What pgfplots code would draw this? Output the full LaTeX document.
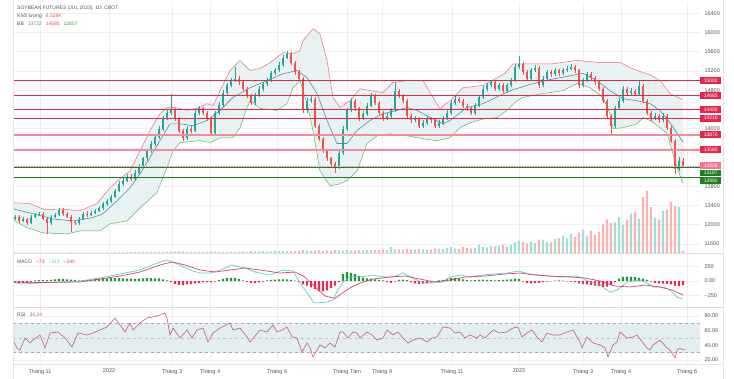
\documentclass[border=0pt]{standalone}
\usepackage{fontspec}
\setmainfont{Liberation Sans}
\usepackage{pgfplots}
\pgfplotsset{compat=1.18}
\usepackage{pgfplotstable}

\definecolor{upc}{HTML}{26A69A}
\definecolor{dnc}{HTML}{EF5350}
\definecolor{bbup}{HTML}{F06A7A}
\definecolor{bbmid}{HTML}{4A8FA8}
\definecolor{bblow}{HTML}{5DB85F}
\definecolor{bbfill}{HTML}{E8F2F2}
\definecolor{lred}{HTML}{E8264B}
\definecolor{lpink}{HTML}{F58A9C}
\definecolor{lgreen}{HTML}{1E7F22}
\definecolor{volu}{HTML}{A6DCD4}
\definecolor{vold}{HTML}{F8B3B3}
\definecolor{hgreen}{HTML}{22962F}
\definecolor{hred}{HTML}{EA2B4B}
\definecolor{macdc}{HTML}{5CCFC4}
\definecolor{sigc}{HTML}{D9436B}
\definecolor{rsic}{HTML}{C25A86}
\definecolor{rsiband}{HTML}{E2EEF0}
\definecolor{txt}{HTML}{555555}
\definecolor{gridc}{HTML}{EFEFEF}

% up candles: x open high low close volume(K)
\pgfplotstableread{
x o h l c v
15 12120 12210 12090 12170 1.2
23 12080 12160 12050 12120 1.0
31 12040 12200 12010 12170 1.6
35 12170 12250 12140 12210 1.1
39 12210 12270 12180 12230 1.4
51 12040 12200 12000 12170 1.8
55 12170 12240 12130 12210 1.3
59 12210 12350 12180 12310 1.5
79 12040 12160 12000 12120 1.4
83 12120 12260 12090 12230 1.7
91 12210 12290 12180 12250 1.5
95 12250 12330 12220 12290 1.9
99 12290 12390 12260 12350 2.0
103 12350 12470 12310 12440 1.6
107 12440 12540 12400 12500 2.2
111 12500 12620 12460 12580 1.8
115 12580 12750 12550 12710 2.4
119 12710 12900 12680 12850 2.1
123 12850 12980 12800 12920 2.5
127 12920 13050 12880 13000 3.5
135 12960 13130 12920 13080 4.2
139 13080 13270 13040 13230 3.8
143 13230 13420 13190 13380 4.5
147 13380 13580 13330 13540 3.6
151 13540 13740 13500 13690 4.8
155 13690 13880 13640 13830 4.0
159 13830 14050 13790 14000 5.2
163 14000 14260 13960 14210 4.4
167 14210 14380 14170 14330 5.5
171 14330 14730 14290 14380 6.0
187 13810 14050 13770 14000 4.6
195 13960 14380 13920 14330 5.0
199 14330 14470 14290 14420 4.1
215 13900 14370 13860 14330 5.8
219 14330 14550 14290 14500 4.3
223 14500 14800 14460 14750 5.1
227 14750 14950 14700 14900 4.7
231 14900 15050 14860 15000 5.4
235 15000 15280 14960 15040 6.2
255 14540 14740 14500 14690 7.0
259 14690 14880 14650 14830 6.3
263 14830 14970 14790 14920 8.1
267 14920 15050 14880 15000 7.2
271 15000 15200 14960 15150 6.6
275 15150 15260 15110 15210 8.5
279 15210 15380 15170 15330 7.7
283 15330 15530 15290 15480 9.0
287 15480 15620 15440 15560 8.2
307 14380 14630 14330 14580 9.5
311 14580 14670 14540 14620 7.4
339 13190 13550 13150 13500 11.5
343 13500 14050 13460 14000 10.4
347 14000 14430 13960 14380 12.0
351 14380 14630 14340 14580 9.8
363 14210 14360 14170 14310 10.6
367 14310 14530 14270 14480 11.8
371 14480 14740 14440 14690 12.5
387 14210 14320 14170 14270 13.0
391 14270 14430 14230 14380 26.0
395 14380 14980 14340 14790 16.5
415 14170 14260 14130 14210 14.2
423 14060 14170 14020 14120 15.5
427 14120 14260 14080 14210 13.8
439 14060 14170 14020 14120 18.4
443 14120 14260 14080 14210 16.0
447 14210 14380 14170 14330 21.0
451 14330 14590 14290 14540 24.5
455 14540 14670 14500 14620 19.6
475 14330 14530 14290 14480 22.0
479 14480 14700 14440 14650 34.0
483 14650 14880 14610 14830 26.5
487 14830 14950 14790 14900 24.0
491 14900 15010 14860 14960 29.5
499 14830 14950 14790 14900 31.0
507 14790 14950 14750 14900 27.0
511 14900 15050 14860 15000 33.0
515 15000 15340 14960 15290 44.0
519 15290 15520 15250 15350 52.0
531 15040 15260 15000 15210 49.0
535 15210 15320 15170 15270 41.0
543 14900 15090 14860 15040 55.0
547 15040 15220 15000 15170 47.0
555 15130 15260 15090 15210 58.0
563 15150 15260 15110 15210 72.0
567 15210 15300 15170 15250 61.0
571 15250 15350 15210 15290 80.0
583 14900 15050 14860 15000 98.0
587 15000 15180 14960 15130 70.0
615 14060 14470 14020 14420 128.0
619 14420 14630 14380 14580 150.0
623 14580 14880 14540 14830 118.0
631 14750 14840 14710 14790 165.0
639 14730 14990 14690 14880 142.0
655 14210 14320 14170 14270 148.0
663 14170 14320 14130 14270 175.0
679 13150 13400 13110 13330 192.0
}\up

% down candles
\pgfplotstableread{
x o h l c v
19 12170 12200 12040 12080 1.4
27 12120 12150 12000 12040 1.2
43 12230 12260 12090 12120 1.6
47 12120 12150 11810 12040 2.0
63 12310 12340 12190 12230 1.3
67 12230 12260 12130 12170 1.5
71 12170 12200 11840 12060 2.1
75 12060 12100 11990 12040 1.7
87 12230 12290 12170 12210 1.4
131 13000 13060 12900 12960 3.9
175 14380 14420 14160 14210 5.6
179 14210 14250 13900 13960 6.4
183 13960 14000 13750 13810 5.3
191 14000 14060 13900 13960 4.8
203 14420 14460 14280 14330 4.5
207 14330 14370 14160 14210 5.0
211 14210 14250 13850 13900 6.8
239 15040 15090 14910 14960 5.9
243 14960 15000 14780 14830 6.5
247 14830 14870 14640 14690 5.2
251 14690 14730 14490 14540 7.6
291 15560 15600 15320 15370 9.2
295 15370 15410 15120 15170 8.0
299 15170 15210 14990 15040 8.8
303 15040 15080 14330 14380 12.4
315 14620 14660 14010 14060 10.2
319 14060 14100 13740 13790 11.0
323 13790 13830 13490 13540 9.4
327 13540 13580 13330 13380 10.8
331 13380 13420 13220 13270 8.6
335 13270 13310 13080 13190 12.8
355 14580 14620 14370 14420 10.0
359 14420 14460 14160 14210 11.2
375 14690 14730 14490 14540 13.5
379 14540 14580 14280 14330 12.2
383 14330 14370 14160 14210 14.8
399 14790 14830 14640 14690 15.0
403 14690 14730 14530 14580 12.8
407 14580 14620 14220 14270 17.2
411 14270 14310 14120 14170 14.0
419 14210 14250 14010 14060 16.4
431 14210 14250 14120 14170 14.6
435 14170 14210 14010 14060 19.0
459 14620 14660 14530 14580 17.5
463 14580 14620 14430 14480 25.0
467 14480 14520 14370 14420 20.5
471 14420 14460 14280 14330 18.0
495 14960 15000 14780 14830 28.0
503 14900 14940 14740 14790 35.0
523 15350 15390 15120 15170 47.0
527 15170 15210 14990 15040 40.0
539 15270 15310 14850 14900 56.0
551 15170 15210 15080 15130 45.0
559 15210 15250 15100 15150 63.0
575 15290 15330 15160 15210 68.0
579 15210 15250 14850 14900 85.0
591 15130 15170 15010 15060 94.0
595 15060 15100 14910 14960 76.0
599 14960 15000 14780 14830 88.0
603 14830 14870 14530 14580 120.0
607 14580 14620 14220 14270 141.0
611 14270 14310 13850 14060 125.0
627 14830 14870 14700 14750 140.0
635 14790 14830 14680 14730 170.0
643 14880 14920 14530 14580 235.0
647 14580 14620 14280 14330 260.0
651 14330 14370 14160 14210 192.0
659 14270 14310 14120 14170 140.0
667 14270 14310 13970 14020 182.0
671 14020 14060 13700 13750 213.0
675 13750 13790 13060 13150 196.0
683 13330 13380 13190 13226 8.528
}\dn

\pgfplotstableread{
x y
13 12460
30 12440
45 12310
60 12330
80 12290
97 12440
110 12770
120 12960
130 13120
140 13540
150 13960
160 14310
167 14440
175 14440
187 14380
200 14440
207 14520
213 14480
220 14790
230 15210
240 15420
250 15210
260 15250
270 15370
283 15580
293 15560
300 15620
303 15830
313 16080
320 15970
327 15420
333 14650
340 14440
350 14580
360 14830
370 14790
383 14750
393 14960
407 15000
423 15000
433 14650
440 14420
450 14580
463 14850
483 14900
497 15060
505 15150
513 15350
530 15350
553 15350
577 15420
597 15380
620 15380
630 15270
640 15190
650 15120
660 15000
670 14730
683 14600
}\bbu

\pgfplotstableread{
x y
13 12330
33 12230
53 12120
73 12080
93 12150
103 12230
117 12500
130 12770
140 13060
150 13400
160 13750
170 14100
180 14100
193 14060
207 14170
220 14380
233 14650
250 14850
267 15000
283 15140
297 15210
307 15060
317 14730
327 14170
337 13690
347 13690
357 13960
370 14170
383 14310
397 14380
407 14440
417 14380
430 14230
443 14100
450 14170
467 14440
483 14520
500 14690
510 14790
530 14920
550 15020
570 15100
583 15150
597 15000
610 14790
623 14625
637 14580
650 14520
660 14380
670 14125
683 13720
}\bbm

\pgfplotstableread{
x y
13 12100
27 11940
43 11830
67 11810
80 11870
100 11870
110 12020
127 12080
140 12350
157 12670
167 13190
173 13540
180 13710
200 13750
210 13710
220 13810
233 13810
240 14020
247 14440
250 14580
260 14420
277 14380
287 14520
293 14850
300 15000
308 14440
313 13960
320 13120
330 12810
340 12850
347 12920
357 13120
367 13690
377 13850
390 13890
407 13850
423 13790
437 13750
450 13810
460 14020
470 14120
483 14200
497 14230
507 14380
517 14580
523 14650
543 14730
563 14790
577 14940
590 14850
603 14650
610 14310
613 14000
623 14020
637 14100
643 14230
650 14170
655 14100
667 13900
677 13190
683 12860
}\bbl

% band outline: upper band forward, lower band backward
\pgfplotstableread{
x y
13 12460
30 12440
45 12310
60 12330
80 12290
97 12440
110 12770
120 12960
130 13120
140 13540
150 13960
160 14310
167 14440
175 14440
187 14380
200 14440
207 14520
213 14480
220 14790
230 15210
240 15420
250 15210
260 15250
270 15370
283 15580
293 15560
300 15620
303 15830
313 16080
320 15970
327 15420
333 14650
340 14440
350 14580
360 14830
370 14790
383 14750
393 14960
407 15000
423 15000
433 14650
440 14420
450 14580
463 14850
483 14900
497 15060
505 15150
513 15350
530 15350
553 15350
577 15420
597 15380
620 15380
630 15270
640 15190
650 15120
660 15000
670 14730
683 14600
683 12860
677 13190
667 13900
655 14100
650 14170
643 14230
637 14100
623 14020
613 14000
610 14310
603 14650
590 14850
577 14940
563 14790
543 14730
523 14650
517 14580
507 14380
497 14230
483 14200
470 14120
460 14020
450 13810
437 13750
423 13790
407 13850
390 13890
377 13850
367 13690
357 13120
347 12920
340 12850
330 12810
320 13120
313 13960
308 14440
300 15000
293 14850
287 14520
277 14380
260 14420
250 14580
247 14440
240 14020
233 13810
220 13810
210 13710
200 13750
180 13710
173 13540
167 13190
157 12670
140 12350
127 12080
110 12020
100 11870
80 11870
67 11810
43 11830
27 11940
13 12100
}\bbband

\pgfplotstableread{
x y
35 10
39 15
43 15
47 15
51 20
55 30
59 35
63 35
67 30
71 25
75 20
79 10
83 5
87 15
91 25
95 35
99 40
103 45
107 45
111 50
115 50
119 50
123 45
127 40
131 40
135 35
139 40
143 45
147 50
151 50
155 45
159 45
163 30
167 10
219 15
223 35
227 50
231 55
235 50
239 35
243 10
267 10
271 20
275 25
279 30
283 30
287 30
291 20
295 5
343 120
347 155
351 140
355 120
359 90
363 60
367 45
371 40
375 30
379 20
383 10
399 20
403 25
407 15
439 10
443 20
447 35
451 50
455 55
459 45
463 30
467 20
471 10
475 15
479 20
483 25
487 20
491 15
495 10
499 15
503 20
507 25
511 30
515 40
519 35
555 5
559 10
563 5
619 40
623 70
627 75
631 70
635 65
639 55
643 40
647 20
}\hpos

\pgfplotstableread{
x y
15 -35
19 -35
23 -30
27 -30
31 -20
171 -20
175 -50
179 -65
183 -70
187 -60
191 -55
195 -40
199 -30
203 -25
207 -20
211 -25
215 -10
247 -15
251 -30
255 -35
259 -25
263 -10
299 -20
303 -60
307 -80
311 -110
315 -140
319 -170
323 -180
327 -160
331 -120
335 -80
339 -20
387 -20
391 -30
395 -10
411 -20
415 -40
419 -50
423 -45
427 -40
431 -25
435 -5
523 -10
527 -30
531 -40
535 -35
539 -30
543 -20
547 -10
551 -5
567 -5
571 -10
575 -20
579 -40
583 -55
587 -60
591 -70
595 -80
599 -90
603 -100
607 -95
611 -70
615 -20
651 -10
655 -30
659 -40
663 -45
667 -50
671 -60
675 -80
679 -90
683 -73
}\hneg

\pgfplotstableread{
x y
13 -17
20 -52
40 -34
60 -17
80 0
100 52
120 121
140 190
160 328
167 362
175 310
190 190
200 138
210 138
220 190
232 276
245 224
255 155
270 103
283 190
293 172
300 -34
310 -276
313 -362
317 -379
327 -362
333 -328
338 -155
343 -17
350 69
360 69
373 103
383 69
393 69
403 138
413 52
423 -34
433 -34
443 -17
450 69
460 103
470 69
483 103
493 121
507 138
518 172
530 121
547 86
560 69
577 86
590 -17
600 -69
610 -190
617 -155
627 -17
640 17
647 -34
653 -103
663 -103
670 -155
677 -276
683 -313
}\macd

\pgfplotstableread{
x y
13 -17
40 -26
80 -17
100 34
120 86
140 155
160 276
172 328
185 276
200 190
215 155
230 190
245 224
260 190
280 138
295 155
305 69
315 -103
325 -259
335 -300
343 -200
350 -120
360 -34
373 34
390 69
405 86
420 34
435 -17
450 17
465 69
485 86
505 121
520 138
535 103
550 86
570 69
585 52
600 0
615 -86
630 -103
645 -69
660 -103
672 -155
683 -240
}\sig

\pgfplotstableread{
x y
13 47.3
17 36.4
20 33.6
25 50.0
30 43.2
33 47.3
40 54.1
45 36.4
50 56.8
58 58.2
65 50.0
72 37.7
78 56.8
87 54.1
93 56.8
100 60.9
107 65.0
115 77.3
120 67.7
125 58.2
130 70.5
133 60.9
140 70.5
147 77.3
153 78.6
160 81.4
165 84.1
167 77.3
170 54.1
173 63.6
180 50.0
187 60.9
192 50.0
197 60.9
203 63.6
208 44.5
213 56.8
220 63.6
230 70.5
233 60.9
240 63.6
247 51.4
250 44.5
260 60.9
267 58.2
273 67.7
277 58.2
282 60.9
287 65.0
292 51.4
297 50.0
302 30.9
307 43.2
310 36.4
313 24.1
320 40.5
325 36.4
330 43.2
335 37.7
340 58.2
343 58.2
348 50.0
353 58.2
357 56.8
360 50.0
367 58.2
372 54.1
377 47.3
383 50.0
387 60.9
393 54.1
398 58.2
403 50.0
408 43.2
413 47.3
420 50.0
427 44.5
432 50.0
437 51.4
443 65.0
450 63.6
455 56.8
460 58.2
465 50.0
470 54.1
477 50.0
480 54.1
485 50.0
493 60.9
500 56.8
507 58.2
513 63.6
518 65.0
522 51.4
527 56.8
532 60.9
537 51.4
542 44.5
547 56.8
553 54.1
560 54.1
567 58.2
573 60.9
580 44.5
582 36.4
587 51.4
593 43.2
600 40.5
605 36.4
608 24.1
613 40.5
617 44.5
620 58.2
627 50.0
633 51.4
637 54.1
643 43.2
647 36.4
650 33.6
653 40.5
660 47.3
667 36.4
670 33.6
675 22.7
677 33.6
680 36.4
683 33.6
685 34.34
}\rsi

\pgfplotsset{
  tvbase/.style={
    scale only axis, width=687pt, xmin=13, xmax=700,
    anchor=north west,
    axis line style={draw=none}, major tick length=0pt,
    xtick={40,109,172,210,277,347,382,452,519,583,621,687},
    xmajorgrids, ymajorgrids,
    grid style={draw=gridc, line width=0.5pt},
    yticklabel pos=right,
    tick label style={font=\fontsize{5.5}{6}\selectfont, text=txt},
    yticklabel style={anchor=west, xshift=1pt},
    scaled y ticks=false,
    /pgf/number format/assume math mode=true,
    /pgf/number format/1000 sep={},
  },
  candle/.style 2 args={forget plot, mark=none, draw=none,
    error bars/.cd, y dir=plus, y explicit, error mark=none,
    error bar style={draw=#1, line width=#2}},
}

\newcommand{\lbl}[3]{\node[fill=#1, text=white, font=\fontsize{5}{5}\selectfont,
  inner sep=0.4pt, minimum width=21pt, minimum height=6.8pt, anchor=west] at (#2) {#3};}

\begin{document}
\begin{tikzpicture}
\path[use as bounding box, fill=white] (0,0) rectangle (734pt,-379pt);

% ---------------- price pane ----------------
\begin{axis}[tvbase, at={(13pt,-2pt)}, height=251pt,
  ymin=11412, ymax=16635, ytick={11600,12000,...,16400},
  yticklabels={11600,12000,12400,12800,{},{},14000,{},14800,15200,15600,16000,16400},
  xticklabels={}]
\addplot[fill=bbfill, draw=none, forget plot] table {\bbband};
\addplot[bbup, line width=0.5pt] table {\bbu};
\addplot[bbmid, line width=0.6pt] table {\bbm};
\addplot[bblow, line width=0.5pt] table {\bbl};
% wicks
\addplot[candle={upc}{0.6pt}]
  table[x=x, y=l, y error expr=\thisrow{h}-\thisrow{l}] {\up};
\addplot[candle={dnc}{0.6pt}]
  table[x=x, y=l, y error expr=\thisrow{h}-\thisrow{l}] {\dn};
% bodies
\addplot[candle={upc}{2.4pt}]
  table[x=x, y=o, y error expr=\thisrow{c}-\thisrow{o}] {\up};
\addplot[candle={dnc}{2.4pt}]
  table[x=x, y=c, y error expr=\thisrow{o}-\thisrow{c}] {\dn};
% horizontal levels
\addplot[lred, line width=1.1pt] coordinates {(13,15002) (700,15002)};
\addplot[lred, line width=1.1pt] coordinates {(13,14685) (700,14685)};
\addplot[lred, line width=1.1pt] coordinates {(13,14402) (700,14402)};
\addplot[lred, line width=1.1pt] coordinates {(13,14216) (700,14216)};
\addplot[lpink, line width=1.8pt] coordinates {(13,13870) (700,13870)};
\addplot[lpink, line width=1.8pt] coordinates {(13,13560) (700,13560)};
\addplot[lpink, densely dotted, line width=0.6pt] coordinates {(13,13226) (700,13226)};
\addplot[lgreen, line width=0.9pt] coordinates {(13,13187) (700,13187)};
\addplot[lgreen, line width=0.9pt] coordinates {(13,12992) (700,12992)};
\coordinate (L1) at (axis cs:700,15002);
\coordinate (L2) at (axis cs:700,14685);
\coordinate (L3) at (axis cs:700,14402);
\coordinate (L4) at (axis cs:700,14216);
\coordinate (L5) at (axis cs:700,13870);
\coordinate (L6) at (axis cs:700,13560);
\coordinate (L7) at (axis cs:700,13226);
\coordinate (L8) at (axis cs:700,13076);
\coordinate (L9) at (axis cs:700,12920);
\end{axis}

% ---------------- volume overlay ----------------
\begin{axis}[scale only axis, width=687pt, height=251pt, at={(13pt,-2pt)},
  anchor=north west, xmin=13, xmax=700, ymin=0, ymax=1052, hide axis]
\addplot[ybar, bar width=2.4pt, bar shift=0pt, fill=volu, draw=none] table[x=x, y=v] {\up};
\addplot[ybar, bar width=2.4pt, bar shift=0pt, fill=vold, draw=none] table[x=x, y=v] {\dn};
\end{axis}

% ---------------- MACD pane ----------------
\begin{axis}[tvbase, at={(13pt,-253pt)}, height=54pt,
  ymin=-448, ymax=483, ytick={-250,0,250}, yticklabels={−250,0.00,250}, xticklabels={}]
\addplot[ybar, bar width=2.2pt, bar shift=0pt, fill=hgreen, draw=none] table {\hpos};
\addplot[ybar, bar width=2.2pt, bar shift=0pt, fill=hred, draw=none] table {\hneg};
\addplot[macdc, line width=0.7pt] table {\macd};
\addplot[sigc, line width=0.7pt] table {\sig};
\end{axis}

% ---------------- RSI pane ----------------
\begin{axis}[tvbase, at={(13pt,-307pt)}, height=57pt,
  ymin=14.5, ymax=92.3, ytick={20,40,60,80}, yticklabels={20.00,40.00,60.00,80.00},
  xticklabels={Tháng 11,2022,Tháng 3,Tháng 4,Tháng 6,Tháng Tám,Tháng 9,Tháng 11,2023,Tháng 3,Tháng 4,Tháng 6},
  xticklabel style={yshift=-1.5pt}]
\fill[rsiband] (axis cs:13,30) rectangle (axis cs:700,70);
\draw[gray!65, dashed, line width=0.5pt] (axis cs:13,70) -- (axis cs:700,70);
\draw[gray!45, dashed, line width=0.5pt] (axis cs:13,50) -- (axis cs:700,50);
\draw[gray!65, dashed, line width=0.5pt] (axis cs:13,30) -- (axis cs:700,30);
\addplot[rsic, line width=0.6pt] table {\rsi};
\end{axis}

% level labels
\lbl{lred}{L1}{15002}
\lbl{lred}{L2}{14685}
\lbl{lred}{L3}{14402}
\lbl{lred}{L4}{14216}
\lbl{lred}{L5}{13870}
\lbl{lred}{L6}{13560}
\lbl{lpink!80!lred}{L7}{13226}
\lbl{lgreen}{L8}{13187}
\lbl{lgreen}{L9}{12992}

% separators
\draw[gray!25, line width=0.6pt] (13pt,-253pt) -- (723pt,-253pt);
\draw[gray!25, line width=0.6pt] (13pt,-307pt) -- (723pt,-307pt);
\draw[gray!20, line width=0.5pt] (13pt,-364pt) -- (723pt,-364pt);
\draw[gray!20, line width=0.5pt] (13pt,0pt) -- (13pt,-379pt);
\draw[gray!20, line width=0.5pt] (723pt,0pt) -- (723pt,-379pt);

% legends
\begin{scope}[every node/.style={anchor=west, inner sep=0pt, font=\fontsize{5}{6}\selectfont, text=txt}]
\node at (17pt,-8pt) {SOYBEAN FUTURES (JUL 2023), 1D, CBOT};
\node at (17pt,-16pt) {Khối lượng\hspace{4pt}\textcolor{dnc}{8.528K}};
\node at (17pt,-24pt) {BB\hspace{4pt}\textcolor{bbmid}{13722}\hspace{4pt}\textcolor{dnc}{14685}\hspace{4pt}\textcolor{bblow!80!black}{12857}};
\node at (17pt,-262pt) {MACD\hspace{4pt}\textcolor{hred}{−73}\hspace{4pt}\textcolor{macdc}{−313}\hspace{4pt}\textcolor{sigc}{−240}};
\node at (17pt,-315pt) {RSI\hspace{4pt}\textcolor{rsic}{34.34}};
\end{scope}
\end{tikzpicture}
\end{document}
